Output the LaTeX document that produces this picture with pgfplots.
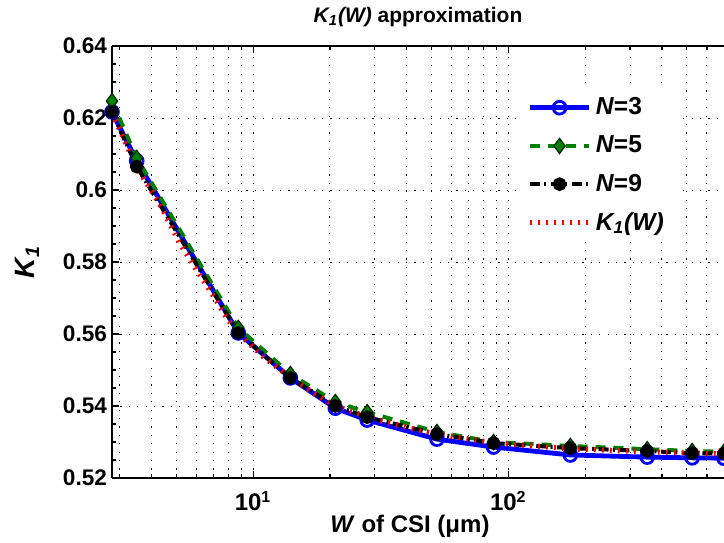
\documentclass[border=0pt]{standalone}
\usepackage{fontspec}
\setmainfont{Liberation Sans}
\usepackage{pgfplots}
\pgfplotsset{compat=1.18}
\definecolor{mgreen}{rgb}{0,0.5,0}

\begin{document}
\begin{tikzpicture}
\begin{axis}[
    name=ax,
    xmode=log,
    width=306pt, height=216pt, scale only axis,
    xmin=2.8, xmax=700,
    ymin=0.52, ymax=0.64,
    axis x line=box, axis y line=left,
    axis line style={-, line width=0.9pt},
    xtick={10,100},
    minor xtick={3,4,5,6,7,8,9,20,30,40,50,60,70,80,90,200,300,400,500,600},
    xticklabels={\textbf{10\textsuperscript{1}},\textbf{10\textsuperscript{2}}},
    ytick={0.52,0.54,0.56,0.58,0.6,0.62,0.64},
    yticklabels={0.52,0.54,0.56,0.58,0.6,0.62,0.64},
    minor y tick num=3,
    tick align=inside,
    major tick length=3.5pt, minor tick length=2pt,
    tick style={black, line width=0.6pt},
    xmajorgrids, xminorgrids, ymajorgrids,
    grid style={black, line width=0.5pt, dash pattern=on 0.6pt off 3.6pt},
    yticklabel style={font=\fontsize{11.3}{12}\bfseries, xshift=1pt},
    xticklabel style={font=\fontsize{12}{13}\bfseries, yshift=-3pt},
    title={\textbf{\textit{K\textsubscript{1}(W)} approximation}},
    title style={font=\fontsize{10.5}{12}\selectfont, yshift=0pt},
    xlabel={\textbf{\textit{W} of CSI (μm)}},
    xlabel style={font=\fontsize{12}{13}\selectfont, yshift=5pt, xshift=-4pt},
    ylabel={\textbf{\textit{K\textsubscript{1}}}},
    ylabel style={font=\fontsize{14}{15}\selectfont, yshift=5pt},
    legend style={at={(0.665,0.9)}, anchor=north west, draw=none, fill=white,
        font=\fontsize{12.3}{13}\bfseries, row sep=5.1pt,
        inner xsep=4pt},
    legend cell align=left,
    legend image code/.code={%
        \draw[mark repeat=2,mark phase=2] plot coordinates {(0cm,0cm) (0.52cm,0cm) (1.04cm,0cm)};},
]
\addplot[blue, line width=2.4pt, mark=o, mark size=3.2pt,
    mark options={solid, line width=1.4pt}] coordinates {
    (2.8,0.6217) (3.5,0.6081) (8.75,0.5603) (14,0.5478) (21,0.5394)
    (28,0.5361) (52.5,0.5308) (87.5,0.5286) (175,0.5264) (350,0.5258)
    (525,0.5256) (700,0.5255)
};
\addlegendentry{\textit{N}=3}
\addplot[mgreen, line width=2pt, dash pattern=on 5pt off 4pt, mark=diamond*,
    mark size=3.8pt, mark options={solid, line width=0.6pt, draw=black!70!mgreen, fill=mgreen}] coordinates {
    (2.8,0.6247) (3.5,0.6089) (8.75,0.5617) (14,0.5489) (21,0.5411)
    (28,0.5383) (52.5,0.5328) (87.5,0.5300) (175,0.5289) (350,0.5280)
    (525,0.5275) (700,0.5273)
};
\addlegendentry{\textit{N}=5}
\addplot[black, line width=2pt, dash pattern=on 5pt off 2.2pt on 1pt off 2.2pt,
    mark=*, mark size=2.4pt, mark options={solid}] coordinates {
    (2.8,0.6217) (3.5,0.6065) (8.75,0.5603) (14,0.5478) (21,0.5400)
    (28,0.5369) (52.5,0.5322) (87.5,0.5297) (175,0.5283) (350,0.5275)
    (525,0.5269) (700,0.5268)
};
\addlegendentry{\textit{N}=9}
\addplot[red, line width=2.6pt, dash pattern=on 0.9pt off 3.1pt] coordinates {
    (2.8,0.6215) (3.5,0.6062) (4.28,0.5964) (5.13,0.5855) (6.0,0.5778)
    (7.0,0.5705) (7.84,0.5647) (8.75,0.5603) (11,0.5535) (14,0.5480)
    (17.35,0.5435) (21,0.5400) (28,0.5370) (37.4,0.5345) (52.5,0.5322)
    (87.5,0.5298) (175,0.5281) (350,0.5273) (525,0.5269) (700,0.5267)
};
\addlegendentry{\textit{K\textsubscript{1}(W)}}
\end{axis}
\pgfresetboundingbox
\path[use as bounding box] ([xshift=-56pt,yshift=-32pt]ax.south west) rectangle ([yshift=23pt]ax.north east);
\end{tikzpicture}
\end{document}
